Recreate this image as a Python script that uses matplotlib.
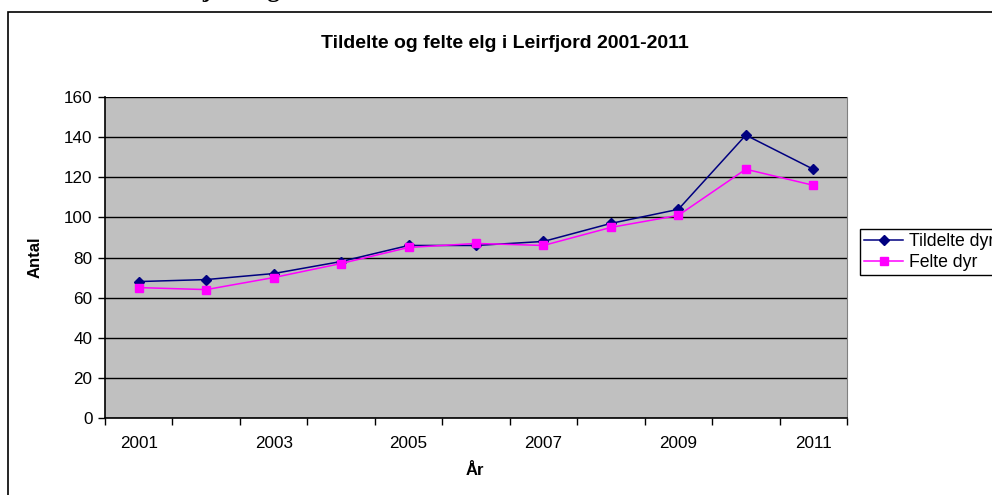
import numpy as np
import matplotlib
matplotlib.use("Agg")
import matplotlib.pyplot as plt
from matplotlib.patches import Rectangle

years = ["2001", "2002", "2003", "2004", "2005", "2006", "2007", "2008", "2009", "2010", "2011"]
tildelte = [68, 69, 72, 78, 86, 86, 88, 97, 104, 141, 124]
felte = [65, 64, 70, 77, 85, 87, 86, 95, 101, 124, 116]

W, H = 992, 495
plt.rcParams['font.family'] = ['Liberation Sans', 'DejaVu Sans']

fig = plt.figure(figsize=(W / 100, H / 100), dpi=100)

# outer chart frame (runs off the right and bottom edge)
fig.patches.append(Rectangle((8 / W, -0.1), 1.2, 1 - 12 / H + 0.1, transform=fig.transFigure,
                             fill=False, edgecolor='black', linewidth=1.2))
# heading above the chart, mostly cut off at the top edge
fig.text(149 / W, 1 + 3.5 / H, "Leirfjord og", fontsize=18, fontweight='bold',
         family='Liberation Serif', ha='left', va='baseline')

left, right, top, bottom = 105, 847, 97, 418
ax = fig.add_axes([left / W, 1 - bottom / H, (right - left) / W, (bottom - top) / H])
ax.set_facecolor('#C0C0C0')

x = np.arange(len(years))
ax.plot(x, tildelte, color='#000080', marker='D', markersize=5, linewidth=1.1, label='Tildelte dyr')
ax.plot(x, felte, color='#FF00FF', marker='s', markersize=5.5, linewidth=1.1, label='Felte dyr')

ax.set_ylim(0, 160)
ax.set_yticks(np.arange(0, 161, 20))
ax.yaxis.grid(True, color='black', linewidth=1)
ax.set_axisbelow(True)

ax.set_xlim(-0.5, len(years) - 0.5)
ax.set_xticks(np.arange(-0.5, len(years), 1))
ax.set_xticklabels([])
ax.set_xticks(x[::2], minor=True)
ax.set_xticklabels(years[::2], minor=True)
ax.tick_params(axis='x', which='minor', length=0, pad=13, labelsize=12.3)
ax.tick_params(axis='x', which='major', length=5, width=1, direction='out')
ax.tick_params(axis='y', length=5, width=1, direction='out', labelsize=12.3, pad=4)

for s in ['left', 'bottom']:
    ax.spines[s].set_color('black')
    ax.spines[s].set_linewidth(1.2)
ax.spines['right'].set_color('#808080')
ax.spines['top'].set_visible(False)

ax.set_xlabel('År', fontsize=12, fontweight='bold')
ax.set_ylabel('Antal', fontsize=12, fontweight='bold')
ax.yaxis.set_label_coords(-(left - 43) / (right - left), 0.5)
ax.xaxis.set_label_coords((475 - left) / (right - left), -(463 - bottom) / (bottom - top))

fig.text(505 / W, 1 - 43 / H, 'Tildelte og felte elg i Leirfjord 2001-2011', fontsize=14,
         fontweight='bold', ha='center', va='center')

leg = ax.legend(loc='upper left', bbox_to_anchor=(860 / W, 1 - 229 / H), bbox_transform=fig.transFigure,
                fontsize=12.7, frameon=True, fancybox=False, edgecolor='black', framealpha=1,
                borderpad=0.25, handlelength=2.2, handletextpad=0.3, labelspacing=0.2, borderaxespad=0)
leg.get_frame().set_linewidth(1)

fig.savefig('out.png', dpi=100)
